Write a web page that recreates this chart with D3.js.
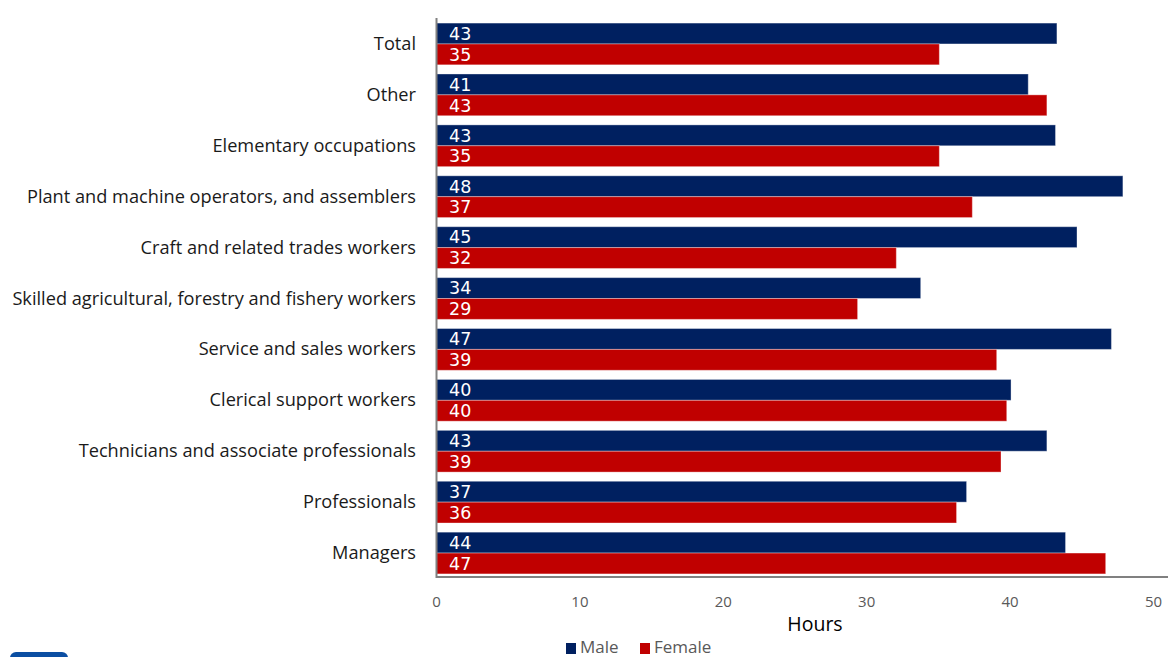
<!DOCTYPE html>
<html><head><meta charset="utf-8">
<script src="https://cdn.jsdelivr.net/npm/d3@7/dist/d3.min.js"></script>
<style>body{margin:0;background:#fff;}svg{display:block;font-family:"Open Sans",sans-serif;}</style>
</head><body>
<svg id="c" width="1168" height="657"></svg>
<script>
const categories = ["Total","Other","Elementary occupations","Plant and machine operators, and assemblers","Craft and related trades workers","Skilled agricultural, forestry and fishery workers","Service and sales workers","Clerical support workers","Technicians and associate professionals","Professionals","Managers"];
const male =   [43.3, 41.3, 43.2, 47.9, 44.7, 33.8, 47.1, 40.1, 42.6, 37.0, 43.9];
const female = [35.1, 42.6, 35.1, 37.4, 32.1, 29.4, 39.1, 39.8, 39.4, 36.3, 46.7];
const series = ["Male","Female"];
const xTicks = [0,10,20,30,40,50];
const colors = {Male:"#002060", Female:"#C00000"};

const svg = d3.select("#c");
const x = d3.scaleLinear().domain([0,50]).range([436,1153]);
const y = d3.scaleBand().domain(categories).range([18.5,578.5]).paddingInner(0.18).paddingOuter(0.09);
const ys = d3.scaleBand().domain(series).range([0,y.bandwidth()]);

const data = categories.map((c,i)=>({c, vals:[{s:"Male",v:male[i]},{s:"Female",v:female[i]}]}));

const g = svg.append("g");
const grp = g.selectAll("g.cat").data(data).join("g").attr("transform",d=>`translate(0,${y(d.c)})`);
grp.selectAll("rect").data(d=>d.vals).join("rect")
  .attr("x",x(0)).attr("y",d=>ys(d.s)).attr("width",d=>x(d.v)-x(0)).attr("height",ys.bandwidth())
  .attr("fill",d=>colors[d.s]).attr("stroke","rgba(255,255,255,0.35)").attr("stroke-width",1);
grp.selectAll("text").data(d=>d.vals).join("text")
  .attr("x",x(0)+13).attr("y",d=>ys(d.s)+ys.bandwidth()/2).attr("dy","0.36em")
  .attr("fill","#fff").attr("font-family","'DejaVu Sans',sans-serif").attr("font-size",17.5).text(d=>Math.round(d.v));

// category labels, sized so the longest fits the reference span
const cl = svg.append("g").selectAll("text").data(categories).join("text")
  .attr("x",416).attr("y",d=>y(d)+y.bandwidth()/2).attr("dy","0.33em")
  .attr("text-anchor","end").attr("font-size",16).attr("fill","#1a1a1a").text(d=>d);
let maxW = 0; cl.each(function(){ maxW = Math.max(maxW, this.getComputedTextLength()); });
cl.attr("font-size", 16*404/maxW);

// axes lines
svg.append("line").attr("x1",436.5).attr("x2",436.5).attr("y1",18).attr("y2",578).attr("stroke","#808080").attr("stroke-width",2);
svg.append("line").attr("x1",436).attr("x2",1168).attr("y1",577).attr("y2",577).attr("stroke","#808080").attr("stroke-width",2);

// x tick labels
const xa = d3.axisBottom(x).tickValues(xTicks).tickSize(0).tickPadding(0);
const xg = svg.append("g").attr("transform","translate(0,596)").call(xa);
xg.select(".domain").remove();
xg.selectAll("text").attr("font-size",15).attr("fill","#595959").attr("font-family","'Open Sans',sans-serif").attr("dy","0.71em");

svg.append("text").attr("x",815).attr("y",631).attr("text-anchor","middle").attr("font-size",19.5).attr("fill","#000").text("Hours");

// legend
const leg = svg.append("g");
const legItems = [{s:"Male",x:566},{s:"Female",x:640}];
leg.selectAll("rect").data(legItems).join("rect").attr("x",d=>d.x).attr("y",643).attr("width",10).attr("height",11).attr("fill",d=>colors[d.s]);
leg.selectAll("text").data(legItems).join("text").attr("x",d=>d.x+14).attr("y",653).attr("font-size",17).attr("fill","#595959").text(d=>d.s);

// decorative corner element
svg.append("rect").attr("x",10).attr("y",652).attr("width",58).attr("height",20).attr("rx",6).attr("fill","#0b4ea2");
</script>
</body></html>
